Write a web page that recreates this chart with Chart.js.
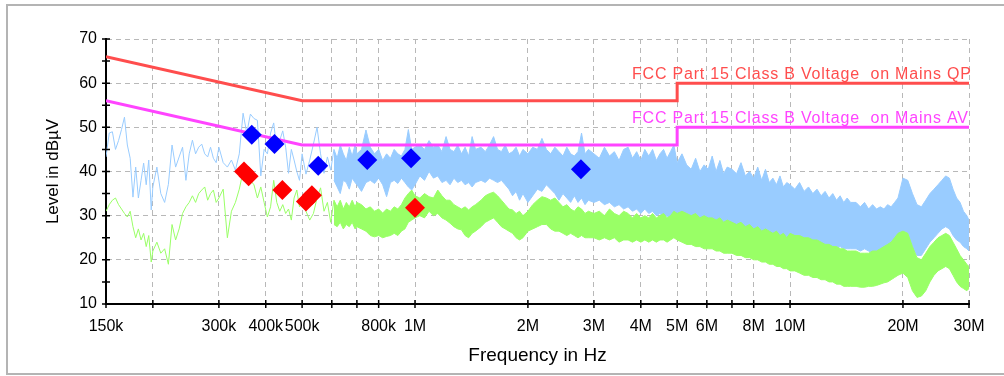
<!DOCTYPE html>
<html>
<head>
<meta charset="utf-8">
<script src="https://cdn.jsdelivr.net/npm/chart.js@4.4.1/dist/chart.umd.min.js"></script>
<style>
  html, body { margin: 0; padding: 0; background: #fff; }
  canvas { display: block; }
</style>
</head>
<body>
<canvas id="emi" width="1004" height="376"></canvas>
<script>
// sweep frequencies in kHz
const freqKHz = [
  150, 153, 156, 159, 162, 165, 168, 171, 174, 177, 180, 183, 186, 189, 192, 195, 198,
  200, 205, 210, 215, 220, 225, 230, 235, 240, 245, 250, 255, 260, 265, 270, 275, 280, 285, 290, 295,
  300, 308, 316, 324, 332, 340, 348, 356, 364, 372, 380, 388, 396, 404, 412, 420, 428, 436, 444, 452, 460, 468, 476, 484, 492,
  500, 512, 524, 536, 548, 560, 572, 584, 596, 608, 620, 632, 644, 656, 668, 680, 692,
  700, 720, 740, 760, 780, 800, 820, 840, 860, 880, 900, 920, 940, 960, 980,
  1000, 1030, 1060, 1090, 1120, 1150, 1180, 1210, 1240, 1270, 1300, 1330, 1360, 1390, 1420, 1450,
  1500, 1540, 1580, 1620, 1660, 1700, 1740, 1780, 1820, 1860, 1900, 1940,
  2000, 2060, 2120, 2180, 2240, 2300, 2360, 2420, 2480, 2540, 2600, 2660, 2720, 2780, 2840, 2900,
  3000, 3100, 3200, 3300, 3400, 3500, 3600, 3700, 3800, 3900, 4000, 4100, 4200, 4300, 4400, 4500, 4600, 4700, 4800, 4900,
  5000, 5150, 5300, 5450, 5600, 5750, 5900, 6050, 6200, 6350, 6500, 6650, 6800,
  7000, 7200, 7400, 7600, 7800, 8000, 8200, 8400, 8600, 8800, 9000, 9200, 9400, 9600, 9800,
  10000, 10300, 10600, 10900, 11200, 11500, 11800, 12100, 12400, 12700, 13000, 13300, 13600, 13900, 14200, 14500,
  15000, 15400, 15800, 16200, 16600, 17000, 17400, 17800, 18200, 18600, 19000, 19400,
  20000, 20600, 21200, 21800, 22400, 23000, 23600, 24200, 24800, 25400, 26000, 26600, 27200, 27800, 28400, 29000, 29600, 30000
];

// peak detector trace (upper edge), dBµV
const peakTop = [
  43.3, 48.7, 49, 45, 47, 49.5, 52.3, 46, 43, 34.2, 41, 34, 38, 41.9, 37, 42.6, 31.3,
  36.5, 41, 35, 33, 37.1, 46, 41, 43.3, 45.5, 38, 44, 47.1, 44, 45.5, 46.2, 44, 43.3, 45.5, 43, 42,
  45.5, 42, 41, 42.6, 40.3, 44, 53.2, 48.7, 53, 52, 51.6, 39, 45, 44, 48.7, 51, 45, 47.1, 49.2, 45.5, 39.6, 45, 42.6, 40, 38,
  44, 39.4, 42.6, 46.2, 50, 44, 39.6, 43.3, 40.3, 45, 43, 46, 44, 42.5, 45.5, 43.5, 46,
  44, 45, 49.4, 45.5, 44, 45, 42.5, 44, 43, 45, 44, 43.5, 45, 49.5, 45,
  45.5, 46, 45, 47, 45.5, 46, 44.5, 47.9, 45, 44.5, 46, 44, 45.5, 43.5, 47.9, 45,
  45.5, 44.5, 46, 47.9, 45, 44.5, 46, 44, 44.5, 45.5, 43.5, 45,
  44, 45.5, 45, 47.5, 45, 44, 45.5, 44.5, 43.5, 45.5, 44, 43.5, 44.5, 48.7, 44, 45,
  44, 43, 45.5, 43.5, 44.5, 42.5, 45, 45.5, 43, 44.5, 42.5, 45, 43.5, 45, 42.5, 44, 45, 43, 44.5, 46,
  42, 44, 41.5, 40.5, 43, 40, 41.5, 40.5, 43.5, 40, 42.5, 39.5, 41,
  40.5, 39.5, 42, 39, 40, 38.5, 41, 38, 40.5, 37.5, 38.5, 37, 39, 36.5, 37.5,
  37, 36, 37.5, 35.5, 36.5, 35, 36, 34.5, 35.5, 34, 35, 33.5, 34.5, 33, 34, 33,
  33, 32, 33, 31.5, 32.5, 31.5, 32, 31.5, 32.5, 32, 33, 34,
  38.5, 38, 35, 32.5, 32, 33.5, 35, 36, 37, 38, 39, 38.5, 36, 34, 33, 31, 30, 29
];

// average detector trace (upper edge), dBµV
const avgTop = [
  31, 32.5, 33.5, 34, 32.5, 31.5, 30.5, 29.7, 31, 27.5, 25, 27, 24.5, 26, 23, 25.5, 19.5,
  22, 24, 21.5, 22.5, 19, 28, 24.5, 27, 30.5, 32, 33, 34.5, 33, 35, 35.8, 36.5, 33.5, 35, 35.8, 33,
  34, 36, 25, 31, 33, 36, 40, 41, 38, 37, 34, 36.5, 33, 29.7, 32, 38, 33, 31, 32.5, 30.5, 31.5, 29, 34, 35.8, 32,
  33, 31, 29, 30.5, 34, 36.3, 31, 33, 28.5, 33.5, 32, 33.5, 31.5, 33, 32, 33.5, 32,
  33, 32.5, 31.5, 32, 31, 31.5, 30.6, 31.5, 31, 32, 31.5, 32.5, 34, 35, 35.8,
  34.5, 34, 35, 34.3, 34, 35.8, 34.5, 33.5, 33.5, 32.5, 32, 31.5, 32, 31.3, 32, 32.5,
  33.5, 34.5, 35, 35.3, 34.5, 33.5, 32.5, 31.5, 31.3, 30.5, 31, 30,
  31, 32.5, 33.5, 34.3, 34, 33.5, 34, 33, 32, 32.5, 31.5, 31, 32, 31.5, 30.5, 31,
  30.5, 31, 30, 31.5, 30.5, 30, 31, 30.5, 29.5, 30.5, 29.5, 30, 29.5, 30.5, 29.5, 30, 30.5, 29.5, 30, 31,
  30.5, 31, 30.5, 30, 30.5, 29.5, 30, 29.5, 29.5, 29, 29.5, 28.5, 29,
  28.5, 28, 28.5, 27.5, 28, 27, 27.5, 26.5, 27, 26.5, 26, 26.5, 25.5, 26, 25,
  26, 25.5, 25.5, 25, 25, 24.5, 24.5, 24, 23.5, 23.5, 23, 23, 22.5, 22.5, 22, 22,
  22, 21.5, 21.5, 21.5, 22, 22, 22.5, 23, 23.5, 24, 25, 26,
  26.5, 26, 23, 20.5, 20, 21.5, 23, 24, 25, 25.5, 26, 25.5, 24, 22.5, 21, 20, 19, 18.5
];

// from 608 kHz on the traces become dense bands: lower edges
const bandStart = 71;
const peakLow = [
  38, 36.5, 35, 38, 37.5, 36, 38.5, 37.5,
  37, 35.5, 37.5, 38, 37.3, 38.5, 37, 34.3, 37.5, 38, 37.3, 38.5, 37.5, 36.5, 35.8,
  37, 39, 38, 40, 38.5, 39, 37.5, 38, 37, 38.5, 37.5, 38, 37, 37.5, 36.5, 37.5,
  38, 37.5, 38.5, 38, 37.5, 38, 37, 36, 34.5, 35.5, 33.5, 35,
  33, 34.5, 36, 35.5, 37, 36, 35, 33.5, 35, 34, 33, 34.5, 33, 34, 32.5, 33.5,
  33, 33.5, 32.5, 33, 32, 32.5, 31.5, 32, 31, 31.5, 30.5, 31.5, 30.5, 31, 30, 30.5, 29.5, 30, 29, 29.5,
  28, 27.5, 28.5, 27, 28, 27, 27.5, 26.5, 27.5, 26.5, 27, 26, 26.5,
  26.5, 26, 26.5, 25.5, 26, 25.5, 25, 25.5, 24.5, 25, 24.5, 24, 24.5, 24, 24,
  24.5, 24, 24.5, 23.5, 24, 23.5, 24, 23, 23.5, 23, 23, 22.5, 23, 22.5, 22.5, 22.5,
  22.5, 22, 22.5, 22, 21.5, 22, 21.5, 22, 22, 22.5, 23, 24,
  26.5, 26, 23, 21, 21, 22.5, 24, 25, 26, 27, 27.5, 27, 25.5, 24.5, 24, 23, 22.5, 22
];
const avgLow = [
  28, 27.5, 28.5, 27, 28, 27.5, 28.5, 27,
  27.5, 27, 26.5, 25.5, 25.2, 25.5, 25, 25.3, 25.5, 26, 25.5, 26.5, 27, 28.5, 29,
  29.5, 30, 29.5, 31, 30, 30.5, 29.5, 29, 28.3, 27.5, 27, 26.8, 25.5, 25, 26, 26.5,
  27.5, 28.5, 29, 29.5, 28.5, 27.5, 27, 26.5, 26, 25, 24.5, 25,
  26.5, 27, 27.5, 28, 28, 27, 26.5, 26.5, 26, 25.5, 26, 25.5, 25, 25.5, 25, 25,
  25, 24.5, 25, 24.5, 25, 24, 24.5, 24.5, 24, 24.5, 24, 24.5, 24, 24.5, 24, 24.5, 24.5, 24, 24.5, 25,
  24.5, 24, 23.5, 23.5, 23, 23, 22.5, 22.5, 22.5, 22, 22, 21.5, 21.5,
  21.5, 21, 21, 20.5, 20.5, 20, 20, 19.5, 19.5, 19, 19, 18.5, 18.5, 18, 18,
  17.5, 17.5, 17, 16.5, 16.5, 16, 16, 15.5, 15.5, 15, 15, 14.5, 14.5, 14, 14, 14,
  14, 13.8, 13.8, 14, 14, 14.2, 14.5, 14.8, 15, 15.5, 16, 16.5,
  17, 16, 13, 11.5, 11.8, 13, 15, 16.5, 17.5, 18, 18.5, 18, 16.5, 15, 14, 13.5, 13, 13.5
];

// limit lines
const limitFreqKHz = [150, 500, 5000, 5000, 30000];
const qpLimit = [66, 56, 56, 60, 60];
const avLimit = [56, 46, 46, 50, 50];

// final measurement markers
const qpMarkFreq = [367, 422, 552, 746, 976, 2770];
const qpMarkLevel = [48.3, 46.2, 41.3, 42.6, 43.0, 40.5];
const avMarkFreq = [350, 360, 443, 512, 531, 1000];
const avMarkLevel = [40.0, 38.9, 35.8, 33.2, 34.6, 31.8];

const xTickKHz = [150, 200, 300, 400, 500, 600, 700, 800, 1000, 2000, 3000, 4000, 5000, 6000, 7000, 8000, 10000, 20000, 30000];
const xTickLabels = {150: '150k', 300: '300k', 400: '400k', 500: '500k', 800: '800k', 1000: '1M', 2000: '2M',
  3000: '3M', 4000: '4M', 5000: '5M', 6000: '6M', 8000: '8M', 10000: '10M', 20000: '20M', 30000: '30M'};
const yTicks = [10, 15, 20, 25, 30, 35, 40, 45, 50, 55, 60, 65, 70];

const qpLabel = 'FCC Part 15 Class B Voltage  on Mains QP';
const avLabel = 'FCC Part 15 Class B Voltage  on Mains AV';

const PEAK_COLOR = '#99ccff';
const AVG_COLOR = '#99ff66';
const QP_COLOR = '#ff4d4d';
const AV_COLOR = '#ff44ff';
const FONT = '"Liberation Sans", Arial, sans-serif';

const pts = (xs, ys, offset = 0) => ys.map((v, i) => ({ x: xs[i + offset], y: v }));

const trace = (label, data, color, fill) => ({
    label,
    data,
    borderColor: color,
    backgroundColor: color,
    borderWidth: 1,
    borderJoinStyle: 'round',
    pointRadius: 0,
    fill: fill ? '-1' : false
});

const markers = (label, xs, ys, color) => ({
    label,
    data: pts(xs, ys),
    showLine: false,
    pointStyle: 'rectRot',
    pointRadius: 10,
    pointBackgroundColor: color,
    pointBorderWidth: 0
});

const limit = (label, ys, color) => ({
    label,
    data: pts(limitFreqKHz, ys),
    borderColor: color,
    borderWidth: 3,
    pointRadius: 0,
    fill: false
});

const frame = {
    id: 'frame',
    beforeDraw(chart) {
        const ctx = chart.ctx;
        ctx.save();
        ctx.strokeStyle = '#b4b4b4';
        ctx.lineWidth = 2;
        ctx.beginPath();
        ctx.moveTo(1004, 5);
        ctx.lineTo(7, 5);
        ctx.lineTo(7, 374);
        ctx.lineTo(1004, 374);
        ctx.stroke();
        ctx.restore();
    }
};

const axisMarks = {
    id: 'axisMarks',
    afterDraw(chart) {
        const { ctx, chartArea: a, scales: { x, y } } = chart;
        ctx.save();
        ctx.strokeStyle = '#000';
        ctx.lineWidth = 1.5;
        ctx.beginPath();
        yTicks.forEach(v => {
            const py = y.getPixelForValue(v);
            ctx.moveTo(a.left - 4, py);
            ctx.lineTo(a.left + 4, py);
        });
        xTickKHz.forEach(v => {
            const px = x.getPixelForValue(v);
            ctx.moveTo(px, a.bottom - 4);
            ctx.lineTo(px, a.bottom + 4);
        });
        ctx.stroke();

        ctx.font = '16px ' + FONT;
        ctx.letterSpacing = '0.8px';
        ctx.textAlign = 'left';
        ctx.textBaseline = 'alphabetic';
        const tx = x.getPixelForValue(3790);
        ctx.fillStyle = QP_COLOR;
        ctx.fillText(qpLabel, tx, y.getPixelForValue(60) - 4);
        ctx.fillStyle = AV_COLOR;
        ctx.fillText(avLabel, tx, y.getPixelForValue(50) - 4.5);
        ctx.restore();
    }
};

new Chart(document.getElementById('emi'), {
    type: 'line',
    data: {
        datasets: [
            markers('QP', qpMarkFreq, qpMarkLevel, '#0000ff'),
            markers('AV', avMarkFreq, avMarkLevel, '#ff0000'),
            limit('QP limit', qpLimit, QP_COLOR),
            limit('AV limit', avLimit, AV_COLOR),
            trace('Average', pts(freqKHz, avgTop), AVG_COLOR, false),
            trace('Average low', pts(freqKHz, avgLow, bandStart), AVG_COLOR, true),
            trace('Peak', pts(freqKHz, peakTop), PEAK_COLOR, false),
            trace('Peak low', pts(freqKHz, peakLow, bandStart), PEAK_COLOR, true)
        ]
    },
    options: {
        responsive: false,
        animation: false,
        devicePixelRatio: 1,
        layout: { padding: { left: 0, top: 39, right: 35, bottom: 0 } },
        plugins: {
            legend: { display: false },
            tooltip: { enabled: false }
        },
        scales: {
            x: {
                type: 'logarithmic',
                min: 150,
                max: 30000,
                afterBuildTicks: s => { s.ticks = xTickKHz.map(v => ({ value: v })); },
                afterFit: s => { s.height = 72; },
                ticks: {
                    autoSkip: false,
                    maxRotation: 0,
                    minRotation: 0,
                    padding: 13,
                    color: '#000',
                    font: { family: FONT, size: 16 },
                    callback: v => xTickLabels[v] || ''
                },
                grid: { color: '#b8b8b8', drawTicks: false },
                border: { display: true, color: '#000', width: 2, dash: [5, 4] },
                title: {
                    display: true,
                    text: 'Frequency in Hz',
                    color: '#000',
                    font: { family: FONT, size: 19 },
                    padding: { top: 0, bottom: 9 }
                }
            },
            y: {
                min: 10,
                max: 70,
                afterFit: s => { s.width = 106; },
                ticks: {
                    stepSize: 5,
                    padding: 9,
                    color: '#000',
                    font: { family: FONT, size: 16 },
                    callback: v => (v % 10 === 0 ? v : '')
                },
                grid: { color: '#b8b8b8', drawTicks: false },
                border: { display: true, color: '#000', width: 2, dash: [5, 4] },
                title: {
                    display: true,
                    text: 'Level in dBµV',
                    color: '#000',
                    font: { family: FONT, size: 17 },
                    padding: { top: 43, bottom: 0 }
                }
            }
        }
    },
    plugins: [frame, axisMarks]
});
</script>
</body>
</html>
